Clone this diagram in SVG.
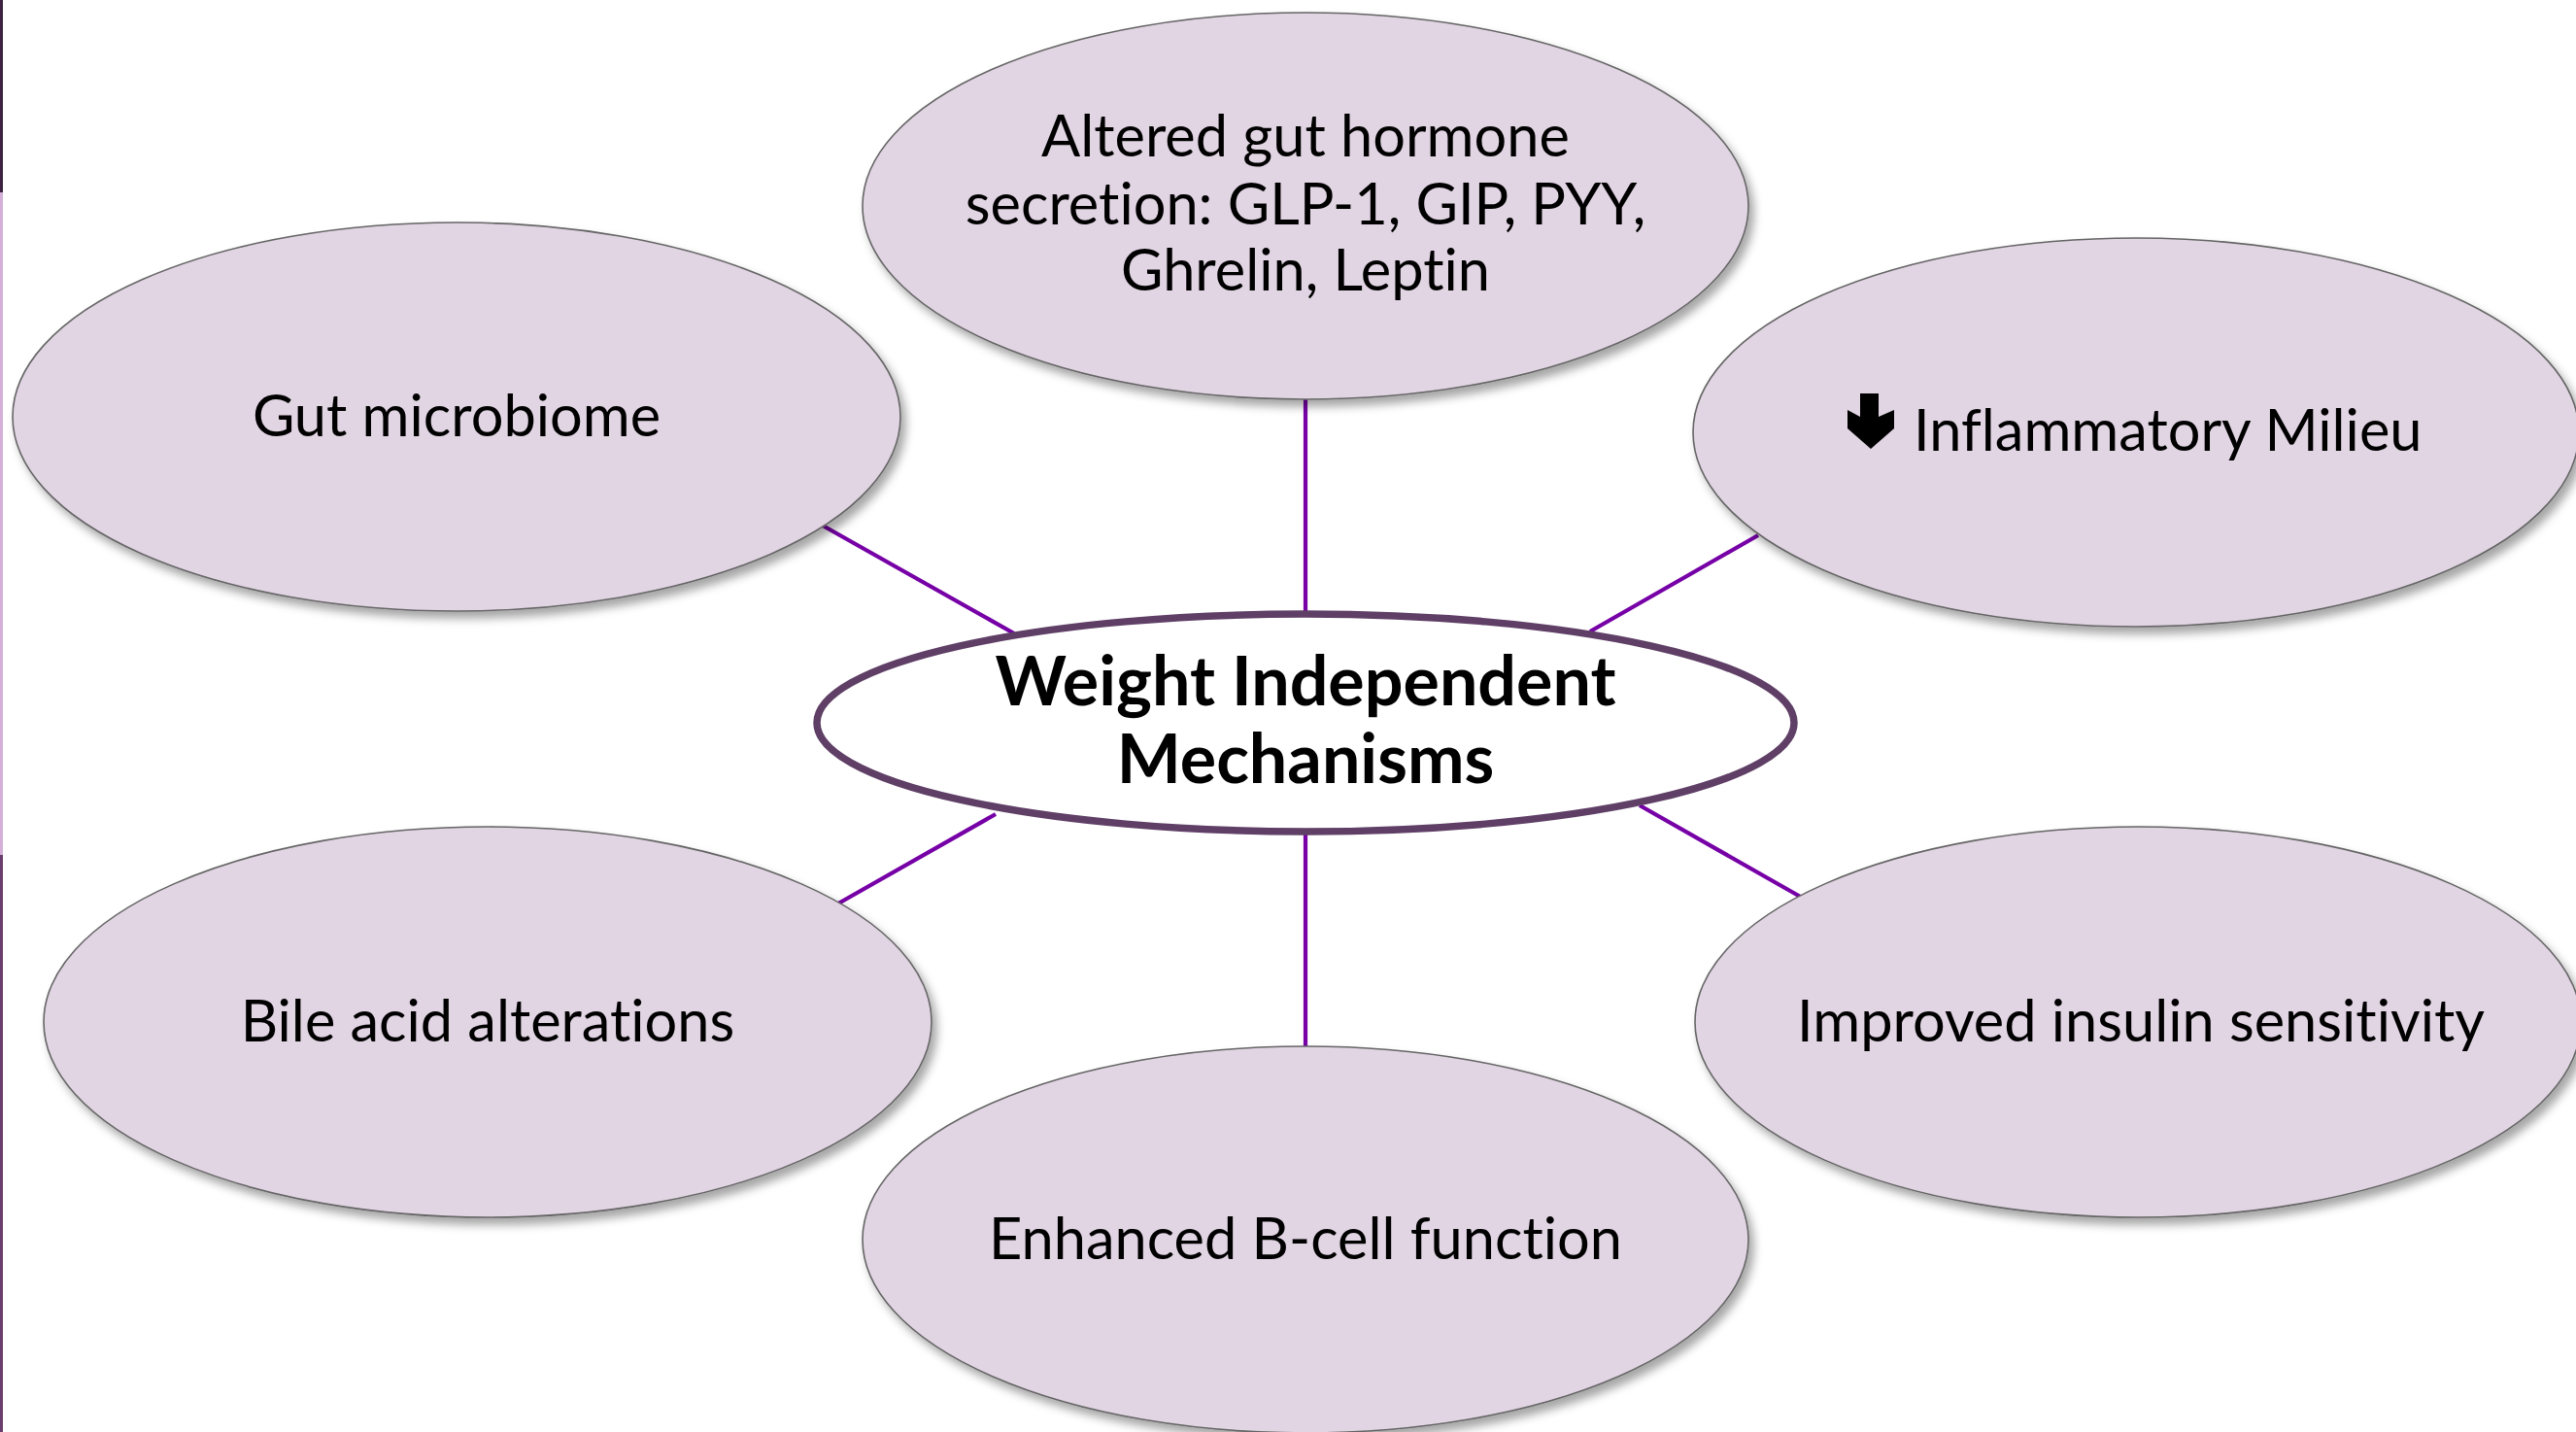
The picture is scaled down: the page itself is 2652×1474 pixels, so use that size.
<svg xmlns="http://www.w3.org/2000/svg" width="2652" height="1474" viewBox="0 0 2652 1474">
<defs>
<filter id="sh" x="-10%" y="-10%" width="125%" height="130%">
<feDropShadow dx="5" dy="7" stdDeviation="5" flood-color="#000" flood-opacity="0.35"/>
</filter>
<style>
.node{fill:#e1d4e3;stroke:#666;stroke-width:1.6;filter:url(#sh)}
.lbl{font-family:Lato,"Open Sans",sans-serif;font-size:59.5px;fill:#000;text-anchor:middle;font-variant-ligatures:none;font-feature-settings:"liga" 0,"clig" 0}
.lbl.st{text-anchor:start}
.ctr{font-family:Lato,"Open Sans",sans-serif;font-size:70px;font-weight:bold;fill:#000;text-anchor:middle;font-variant-ligatures:none}
.con{stroke:#7600a6;stroke-width:4.2;fill:none}
</style>
</defs>
<rect width="2652" height="1474" fill="#fff"/>
<rect x="0" y="0" width="3" height="198" fill="#3d2342"/>
<rect x="0" y="198" width="3" height="682" fill="#d4b0d8"/>
<rect x="0" y="880" width="3" height="594" fill="#6b3d6e"/>
<g id="connectors">
<line class="con" x1="1344" y1="411" x2="1344" y2="632"/>
<line class="con" x1="847" y1="541" x2="1044" y2="652"/>
<line class="con" x1="1810" y1="551" x2="1637" y2="650"/>
<line class="con" x1="1025" y1="838" x2="863" y2="930"/>
<line class="con" x1="1688" y1="829" x2="1857" y2="925"/>
<line class="con" x1="1344" y1="856" x2="1344" y2="1077"/>
</g>
<g id="n-hormone">
<ellipse class="node" cx="1344" cy="212" rx="456" ry="199"/>
<text class="lbl" x="1344" y="161">Altered gut hormone</text>
<text class="lbl" x="1344" y="231">secretion: GLP-1, GIP, PYY,</text>
<text class="lbl" x="1344" y="299">Ghrelin, Leptin</text>
</g>
<g id="n-microbiome">
<ellipse class="node" cx="470" cy="429" rx="457" ry="200"/>
<text class="lbl" x="470" y="449">Gut microbiome</text>
</g>
<g id="n-inflammatory">
<ellipse class="node" cx="2199" cy="445" rx="456" ry="200"/>
<polygon points="1915,405 1934,405 1934,429 1950,422 1950,441 1926,462 1902,441 1902,422 1915,429" fill="#000"/>
<text class="lbl st" x="1970" y="464">Inflammatory Milieu</text>
</g>
<g id="n-bile">
<ellipse class="node" cx="502" cy="1052" rx="457" ry="201"/>
<text class="lbl" x="502" y="1072">Bile acid alterations</text>
</g>
<g id="n-insulin">
<ellipse class="node" cx="2201" cy="1052" rx="456" ry="201"/>
<text class="lbl" x="2204" y="1072">Improved insulin sensitivity</text>
</g>
<g id="n-bcell">
<ellipse class="node" cx="1344" cy="1276" rx="456" ry="199"/>
<text class="lbl" x="1344" y="1296">Enhanced B-cell function</text>
</g>
<g id="n-center">
<ellipse cx="1344" cy="744" rx="503" ry="112" fill="#fff" stroke="#5f3f66" stroke-width="7.5"/>
<text class="ctr" x="1344" y="726">Weight Independent</text>
<text class="ctr" x="1344" y="806">Mechanisms</text>
</g>
</svg>
